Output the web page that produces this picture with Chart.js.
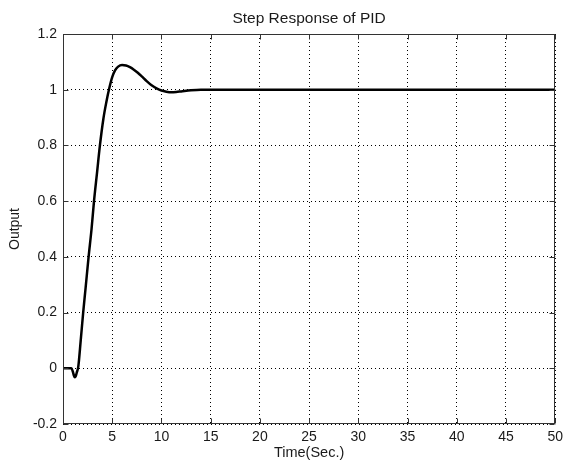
<!DOCTYPE html>
<html>
<head>
<meta charset="utf-8">
<script src="https://cdn.jsdelivr.net/npm/chart.js@4"></script>
<style>
  html, body { margin: 0; padding: 0; background: #fff; }
  canvas { display: block; }
</style>
</head>
<body>
<canvas id="c" width="568" height="463"></canvas>
<script>
// ---- data ----
const timeValues = [0, 0.5, 0.85, 1.0, 1.1, 1.2, 1.3, 1.4, 1.55, 1.8, 2.05, 2.3, 2.6, 2.9, 3.15, 3.45, 3.75, 4.1, 4.4, 4.7, 5.0, 5.3, 5.6, 6.0, 6.4, 6.8, 7.2, 7.6, 8.0, 8.5, 9.0, 9.5, 10.0, 10.5, 11.0, 11.5, 12.0, 13.0, 14.0, 15, 20, 25, 30, 35, 40, 45, 50];
const outputValues = [0, 0, 0, -0.012, -0.025, -0.032, -0.028, -0.015, 0.005, 0.1, 0.2, 0.29, 0.4, 0.5, 0.6, 0.7, 0.8, 0.895, 0.955, 1.005, 1.045, 1.07, 1.083, 1.089, 1.087, 1.081, 1.072, 1.061, 1.048, 1.031, 1.016, 1.005, 0.997, 0.993, 0.991, 0.992, 0.994, 0.998, 1.0, 1.0, 1, 1, 1, 1, 1, 1, 1];
const xTickValues = [0, 5, 10, 15, 20, 25, 30, 35, 40, 45, 50];
const xTickLabels = ['0', '5', '10', '15', '20', '25', '30', '35', '40', '45', '50'];
const yTickValues = [-0.2, 0, 0.2, 0.4, 0.6, 0.8, 1.0, 1.2];
const yTickLabels = ['-0.2', '0', '0.2', '0.4', '0.6', '0.8', '1', '1.2'];
const chartTitle = 'Step Response of PID';
const xTitle = 'Time(Sec.)';
const yTitle = 'Output';

const FONT = 'Liberation Sans, Arial, Helvetica, sans-serif';
const TXT = '#1a1a1a';
const BOX = '#333333';

const boxPlugin = {
  id: 'matlabBox',
  afterDatasetsDraw(chart) {
    const {ctx, chartArea: a, scales} = chart;
    ctx.save();
    ctx.strokeStyle = BOX;
    ctx.lineWidth = 1;
    ctx.setLineDash([]);
    const L = Math.round(a.left) + 0.5, R = Math.round(a.right) - 0.5;
    const T = Math.round(a.top) + 0.5, B = Math.round(a.bottom) - 0.5;
    ctx.strokeRect(L, T, R - L, B - T);
    const tl = 5;
    ctx.beginPath();
    scales.x.ticks.forEach(t => {
      const px = Math.round(scales.x.getPixelForValue(t.value)) + 0.5;
      ctx.moveTo(px, B); ctx.lineTo(px, B - tl);
      ctx.moveTo(px, T); ctx.lineTo(px, T + tl);
    });
    scales.y.ticks.forEach(t => {
      const py = Math.round(scales.y.getPixelForValue(t.value)) + 0.5;
      ctx.moveTo(L, py); ctx.lineTo(L + tl, py);
      ctx.moveTo(R, py); ctx.lineTo(R - tl, py);
    });
    ctx.stroke();
    ctx.restore();
  }
};

new Chart(document.getElementById('c'), {
  type: 'line',
  data: {
    datasets: [{
      data: timeValues.map((t, i) => ({x: t, y: outputValues[i]})),
      borderColor: '#000',
      borderWidth: 2.5,
      pointRadius: 0,
      cubicInterpolationMode: 'monotone',
      fill: false
    }]
  },
  options: {
    responsive: false,
    animation: false,
    devicePixelRatio: 1,
    layout: { padding: { left: 0, right: 9, top: 0, bottom: 0 } },
    plugins: { legend: { display: false }, tooltip: { enabled: false }, title: { display: false } },
    scales: {
      x: {
        type: 'linear', position: 'bottom', min: 0, max: 50,
        afterBuildTicks: s => { s.ticks = xTickValues.map(v => ({value: v})); },
        afterFit: s => { s.height = 39; },
        ticks: { color: TXT, font: { family: FONT, size: 14 }, padding: 5, maxRotation: 0, autoSkip: false,
                 callback: (v, i) => xTickLabels[i] },
        grid: { color: '#000', lineWidth: 1, drawTicks: false },
        border: { display: false, dash: [1, 3] },
        title: { display: true, text: xTitle, color: TXT, font: { family: FONT, size: 14.5 }, padding: { top: 0, bottom: 1 } }
      },
      x2: {
        type: 'linear', position: 'top', min: 0, max: 50,
        afterFit: s => { s.height = 34; },
        ticks: { display: false },
        grid: { display: false, drawTicks: false },
        border: { display: false },
        title: { display: true, text: chartTitle, color: TXT, font: { family: FONT, size: 15.5 }, padding: { top: 9, bottom: 0 } }
      },
      y: {
        type: 'linear', position: 'left', min: -0.2, max: 1.2,
        afterBuildTicks: s => { s.ticks = yTickValues.map(v => ({value: v})); },
        afterFit: s => { s.width = 63; },
        ticks: { color: TXT, font: { family: FONT, size: 14 }, padding: 6, autoSkip: false,
                 callback: (v, i) => yTickLabels[i] },
        grid: { color: '#000', lineWidth: 1, drawTicks: false },
        border: { display: false, dash: [1, 3] },
        title: { display: true, text: yTitle, color: TXT, font: { family: FONT, size: 14 }, padding: { top: 7, bottom: 0 } }
      }
    }
  },
  plugins: [boxPlugin]
});
</script>
</body>
</html>
